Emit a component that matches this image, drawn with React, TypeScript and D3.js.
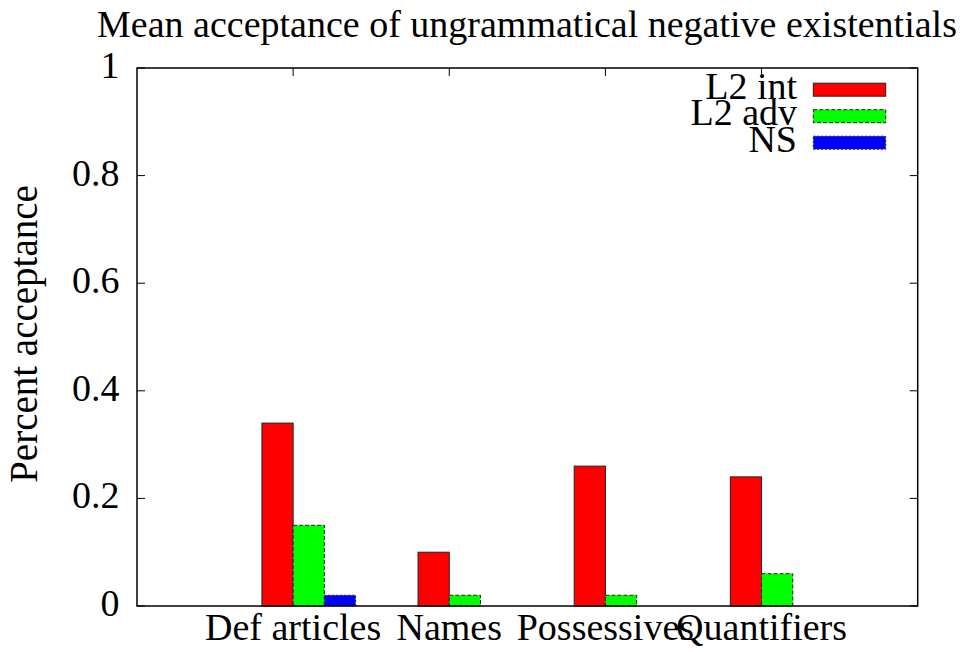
import React from "react";
import * as d3 from "d3";

const categories = ["Def articles", "Names", "Possessives", "Quantifiers"];
const seriesNames = ["L2 int", "L2 adv", "NS"];
const l2int = [0.34, 0.1, 0.26, 0.24];
const l2adv = [0.15, 0.02, 0.02, 0.06];
const ns = [0.02, 0, 0, 0];
const yTicks = [0, 0.2, 0.4, 0.6, 0.8, 1];
const colors = ["#ff0000", "#00ff00", "#0000ff"];
const dashes = ["none", "4,2", "2,2"];

export default function App() {
  const W = 964, H = 652;
  const left = 137, right = 917.7, top = 68, bottom = 606;
  const font = "'Liberation Serif', 'Times New Roman', Times, serif";
  const fs = 38;
  const x = d3.scaleLinear().domain([-1, 4]).range([left, right]);
  const y = d3.scaleLinear().domain([0, 1]).range([bottom, top]);
  const series = [l2int, l2adv, ns];
  const bw = 0.2;
  const tickLen = 8;
  const ts: React.CSSProperties = { fontFamily: font, fontSize: fs };
  return (
    <svg
      width={W}
      height={H}
      style={{ position: "absolute", left: 0, top: 0, display: "block", fontFamily: font, background: "#fff" }}
    >
      <text x={527} y={37} style={ts} textAnchor="middle">
        Mean acceptance of ungrammatical negative existentials
      </text>
      {series.map((vals, si) =>
        vals.map((v, ci) => {
          if (v <= 0) return null;
          const x0 = x(ci + (si - 1) * bw);
          const x1 = x(ci + si * bw);
          return (
            <rect
              key={`${si}-${ci}`}
              x={x0}
              y={y(v)}
              width={x1 - x0}
              height={y(0) - y(v)}
              fill={colors[si]}
              stroke="#222"
              strokeWidth={1}
              strokeDasharray={dashes[si]}
            />
          );
        })
      )}
      {yTicks.map((t) => (
        <g key={t}>
          <line x1={left} x2={left + tickLen} y1={y(t)} y2={y(t)} stroke="#000" strokeWidth={1} />
          <line x1={right} x2={right - tickLen} y1={y(t)} y2={y(t)} stroke="#000" strokeWidth={1} />
          <text x={119.5} y={y(t) + 10} style={ts} textAnchor="end">
            {String(t)}
          </text>
        </g>
      ))}
      {categories.map((c, i) => (
        <g key={c}>
          <line x1={x(i)} x2={x(i)} y1={top} y2={top + tickLen} stroke="#000" strokeWidth={1} />
          <text x={x(i)} y={640} style={ts} textAnchor="middle">
            {c}
          </text>
        </g>
      ))}
      <rect x={left} y={top} width={right - left} height={bottom - top} fill="none" stroke="#000" strokeWidth={1.5} />
      <text
        transform={`translate(37,334) rotate(-90)`}
        style={{ fontFamily: font, fontSize: 39 }}
        textAnchor="middle"
      >
        Percent acceptance
      </text>
      {seriesNames.map((s, i) => {
        const cy = 89.7 + i * 26.5;
        return (
          <g key={s}>
            <text x={797} y={cy + 9} style={ts} textAnchor="end">
              {s}
            </text>
            <rect
              x={813.3}
              y={cy - 6.5}
              width={72.4}
              height={13}
              fill={colors[i]}
              stroke="#222"
              strokeWidth={1}
              strokeDasharray={dashes[i]}
            />
          </g>
        );
      })}
    </svg>
  );
}
